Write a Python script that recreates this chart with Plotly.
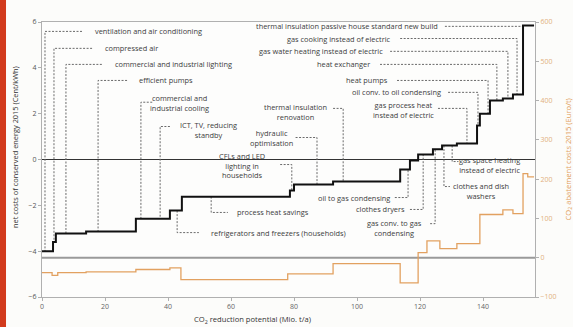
import plotly.graph_objects as go

# ---------------- data ----------------
# Net costs of conserved energy (left axis, Cent/kWh), step curve
cost_edges = [0, 3.5, 4.4, 14.0, 29.8, 40.6, 44.4, 78.7, 80.0, 92.4, 113.7, 116.8,
              119.4, 124.1, 127.0, 131.7, 138.1, 139.0, 142.2, 146.3, 149.5, 152.7, 156.2]
net_costs = [-4.0, -3.6, -3.23, -3.14, -2.58, -2.23, -1.62, -1.35, -1.09, -0.96, -0.44,
             -0.04, 0.22, 0.45, 0.61, 0.70, 1.48, 2.0, 2.58, 2.66, 2.84, 5.85]

# CO2 abatement costs (right axis, Euro/t), step curve
abate_edges = [0, 3.2, 5.0, 14.0, 29.8, 40.6, 44.1, 78.0, 92.4, 113.7, 119.4, 122.2,
               126.3, 131.7, 139.0, 146.3, 149.5, 152.7, 154.2, 156.2]
abatement = [-38, -45, -38, -36, -30, -26, -56, -41, -15, -64, 13, 43, 23, 36,
             110, 122, 112, 214, 206]

x_ticks = [0, 20, 40, 60, 80, 100, 120, 140]
y_ticks = [-6, -4, -2, 0, 2, 4, 6]
y2_ticks = [-100, 0, 100, 200, 300, 400, 500, 600]


def step_at(x):
    for i in range(len(net_costs)):
        if cost_edges[i] <= x < cost_edges[i + 1]:
            return net_costs[i]
    return net_costs[-1]


# labels: text, x, y, xanchor, leader points ('s' = down/up to the curve)
labels = [
    ("ventilation and air conditioning", 16.2, 5.59, "left", [(12.7, 5.59), (0.95, 5.59), (0.95, "s")]),
    ("compressed air", 19.4, 4.85, "left", [(15.9, 4.85), (3.8, 4.85), (3.8, "s")]),
    ("commercial and industrial lighting", 22.5, 4.15, "left", [(19.0, 4.15), (7.6, 4.15), (7.6, "s")]),
    ("efficient pumps", 30.2, 3.45, "left", [(27.0, 3.45), (17.8, 3.45), (17.8, "s")]),
    ("commercial and<br>industrial cooling", 43.8, 2.45, "center", [(35.0, 2.5), (31.4, 2.5), (31.4, "s")]),
    ("ICT, TV, reducing<br>standby", 53.0, 1.30, "center", [(40.6, 1.44), (37.5, 1.44), (37.5, "s")]),
    ("CFLs and LED<br>lighting in<br>households", 63.5, -0.28, "center", [(75.6, -0.22), (79.3, -0.22), (79.3, "s")]),
    ("hydraulic<br>optimisation", 73.0, 0.96, "center", [(80.5, 0.96), (87.3, 0.96), (87.3, "s")]),
    ("thermal insulation<br>renovation", 80.6, 2.07, "center", [(92.4, 2.23), (95.6, 2.23), (95.6, "s")]),
    ("process heat savings", 61.3, -2.31, "left", [(53.7, "s"), (53.7, -2.31), (59.0, -2.31)]),
    ("refrigerators and freezers (households)", 53.0, -3.19, "left", [(42.9, "s"), (42.9, -3.19), (49.8, -3.19)]),
    ("oil to gas condensing", 111.0, -1.66, "right", [(112.0, -1.66), (116.2, -1.66), (116.2, "s")]),
    ("clothes dryers", 115.9, -2.18, "right", [(116.8, -2.18), (121.0, -2.18), (121.0, "s")]),
    ("gas conv. to gas<br>condensing", 112.0, -2.97, "center", [(123.2, -2.8), (124.8, -2.8), (124.8, "s")]),
    ("gas space heating<br>instead of electric", 142.2, -0.26, "center", [(130.2, "s"), (130.2, -0.09), (132.2, -0.09)]),
    ("clothes and dish<br>washers", 139.2, -1.38, "center", [(127.6, "s"), (127.6, -1.18), (129.5, -1.18)]),
    ("thermal insulation passive house standard new build", 126.3, 5.81, "right", [(127.9, 5.81), (152.7, 5.81)]),
    ("gas cooking instead of electric", 111.4, 5.28, "right", [(113.7, 5.28), (150.8, 5.28), (150.8, "s")]),
    ("gas water heating instead of electric", 108.9, 4.72, "right", [(110.5, 4.72), (147.9, 4.72), (147.9, "s")]),
    ("heat exchanger", 104.8, 4.15, "right", [(107.3, 4.15), (144.4, 4.15), (144.4, "s")]),
    ("heat pumps", 110.5, 3.45, "right", [(112.7, 3.45), (141.6, 3.45), (141.6, "s")]),
    ("oil conv. to oil condensing", 127.3, 2.93, "right", [(128.9, 2.93), (138.4, 2.93), (138.4, "s")]),
    ("gas process heat<br>instead of electric", 114.6, 2.14, "center", [(125.7, 2.23), (134.9, 2.23), (134.9, "s")]),
]

FONT = "Open Sans"
TXT = "#3c3c3c"
ORANGE = "#e2a160"

fig = go.Figure()

fig.add_trace(go.Scatter(
    x=abate_edges, y=abatement + [abatement[-1]], yaxis="y2",
    mode="lines", line=dict(color=ORANGE, width=1.3, shape="hv"),
    hoverinfo="skip", showlegend=False))

fig.add_trace(go.Scatter(
    x=cost_edges, y=net_costs + [net_costs[-1]],
    mode="lines", line=dict(color="#111111", width=2, shape="hv"),
    hoverinfo="skip", showlegend=False))

shapes = []
annotations = []
for text, lx, ly, xa, pts in labels:
    coords = [(px, step_at(px) if py == "s" else py) for px, py in pts]
    path = "M " + " L ".join(f"{a},{b}" for a, b in coords)
    shapes.append(dict(type="path", path=path, xref="x", yref="y",
                       line=dict(color="#6a6a6a", width=1, dash="2px,1.5px"), layer="below"))
    annotations.append(dict(text=text, x=lx, y=ly, xref="x", yref="y", xanchor=xa,
                            yanchor="middle", showarrow=False, align="center",
                            font=dict(family=FONT, size=7.4, color=TXT)))

# zero line of the right axis (grey)
shapes.append(dict(type="line", xref="paper", x0=0, x1=1, yref="y2", y0=0, y1=0,
                   line=dict(color="#9a9a9a", width=2), layer="below"))
# zero line of the left axis (dark)
shapes.append(dict(type="line", xref="paper", x0=0, x1=1, yref="y", y0=0, y1=0,
                   line=dict(color="#333333", width=1), layer="below"))
# red slide strip at left edge
shapes.append(dict(type="rect", xref="paper", yref="paper", x0=-0.0852, x1=-0.0730,
                   y0=-0.2, y1=1.2, fillcolor="#d23a1c", line=dict(width=0), layer="above"))

annotations += [
    dict(text="CO<sub>2</sub> reduction potential (Mio. t/a)", xref="paper", yref="paper",
         x=0.426, y=-0.085, xanchor="center", yanchor="middle", showarrow=False,
         font=dict(family=FONT, size=7.6, color="#333333")),
    dict(text="net costs of conserved energy 2015 (Cent/kWh)", xref="paper", yref="paper",
         x=-0.055, y=0.545, xanchor="center", yanchor="middle", textangle=-90, showarrow=False,
         font=dict(family=FONT, size=7.4, color="#333333")),
    dict(text="CO<sub>2</sub> abatement costs 2015 (Euro/t)", xref="paper", yref="paper",
         x=1.067, y=0.50, xanchor="center", yanchor="middle", textangle=-90, showarrow=False,
         font=dict(family=FONT, size=7.6, color=ORANGE)),
]

axis_common = dict(showgrid=False, showline=True, linecolor="#b0b0b0", linewidth=1,
                   ticks="outside", ticklen=3, tickcolor="#b0b0b0")

fig.update_layout(
    width=573, height=327,
    margin=dict(l=42, r=38, t=22, b=30),
    paper_bgcolor="#fcfcfa", plot_bgcolor="#fdfdfc",
    showlegend=False,
    xaxis=dict(range=[0, 156.5], tickvals=x_ticks, mirror=True, zeroline=False,
               tickfont=dict(family=FONT, size=7, color="#666666"), **axis_common),
    yaxis=dict(range=[-6, 6], tickvals=y_ticks, zeroline=False,
               tickfont=dict(family=FONT, size=7, color="#555555"), **axis_common),
    yaxis2=dict(range=[-100, 600], tickvals=y2_ticks, overlaying="y", side="right",
                zeroline=False, tickfont=dict(family=FONT, size=7, color="#e2b07e"),
                **axis_common),
    shapes=shapes,
    annotations=annotations,
)

fig.write_html(
    "out.html",
    config={"displayModeBar": False, "staticPlot": True},
    post_script="document.body.style.margin='0';document.body.style.padding='0';"
                "document.body.style.overflow='hidden';",
)
